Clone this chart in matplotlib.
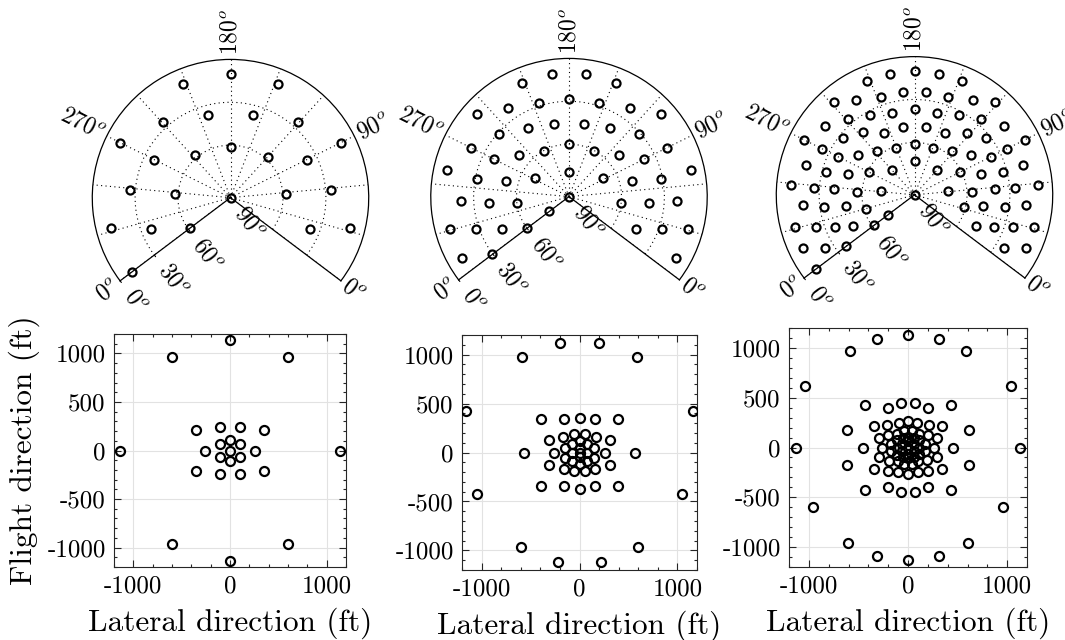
import numpy as np
import matplotlib
matplotlib.use("Agg")
import matplotlib.pyplot as plt
from matplotlib.ticker import MultipleLocator

plt.rcParams.update({
    "font.family": "serif",
    "font.serif": ["cmr10"],
    "mathtext.fontset": "cm",
    "axes.unicode_minus": False,
})

# ── look directions: elevation (deg) of each ring and the azimuths (deg) on it ──
A_ELEV = [90, 61, 58, 37.2, 26, 10]
A_AZIM = [[0], [180, 360], [58, 120, 237, 302],
          [22, 90, 158, 202, 270, 338], [59, 121, 239, 301],
          [32, 90, 148, 180, 212, 270, 328, 360]]

B_ELEV = [90, 77, 69, 60, 51.6, 45, 41.3, 38, 31, 29.7, 28, 21, 19.4, 10, 9.2]
B_AZIM = [[0], [180, 360], [93, 267], [42, 139, 180, 221, 318, 360],
          [72, 109, 251, 288], [16, 164, 196, 344], [46, 136, 224, 314],
          [90, 270], [68, 112, 248, 292], [360], [25, 155, 180, 205, 335],
          [49, 131, 229, 311], [90, 270],
          [10, 31, 112, 148, 169, 191, 212, 248, 329, 350], [70, 290]]

C_ELEV = [90, 71.8, 61.2, 56.8, 48.8, 40.5, 37.2, 32.8, 26, 24, 18.2, 17.4, 10, 9.4]
C_AZIM = [[0], [62, 121, 180, 239, 298, 360],
          [33, 90, 149, 180, 210, 270, 330, 360], [57, 122, 237, 303],
          [14, 39, 77, 103, 143, 167, 193, 217, 257, 283, 321, 346],
          [58, 123, 236, 302], [21, 90, 158, 180, 202, 270, 339, 360],
          [42, 73, 107, 139, 221, 253, 287, 318], [58, 122, 238, 302],
          [9, 27, 90, 153, 171, 189, 207, 270, 333, 351],
          [45, 135, 225, 315], [74, 106, 254, 286],
          [16, 31, 90, 122, 148, 164, 180, 196, 212, 238, 270, 329, 344, 360],
          [59, 301]]

ALT = 200.0                      # flight altitude (ft) for the ground footprint
AZ_LABELS = [0, 90, 180, 270, 360]
EL_LABELS = [0, 30, 60, 90]
X_TICKS = [-1000, 0, 1000]
Y_TICKS = [-1000, -500, 0, 500, 1000]

# ── layout (pixels) ───────────────────────────────────────────────────────────
W, H = 1065, 640
SPAN = 254.0                     # on-screen sweep of the 0..360 azimuth fan
ROT0 = -37.0                     # screen angle of azimuth 0
BEND = 0.315                     # radial stretch of the zenith axis
POLAR_C = [(230.5, 198.0), (569.0, 197.0), (914.5, 195.2)]
POLAR_R = 140.0
BOX = [(114, 334, 346, 567), (462, 335, 697, 570), (789, 328, 1027, 567)]


def zen_fwd(z):
    z = np.asarray(z, dtype=float)
    return z + BEND * z * (1 - z / 90.0) ** 2


_zz = np.linspace(-20, 140, 4001)


def zen_inv(v):
    return np.interp(v, zen_fwd(_zz), _zz)


def fan(az):
    return np.radians(np.asarray(az, dtype=float) * SPAN / 360.0)


def rect(l, t, r, b):
    return [l / W, 1 - b / H, (r - l) / W, (b - t) / H]


def flatten(elev, azim):
    az = np.concatenate([np.asarray(a, float) for a in azim])
    el = np.concatenate([np.full(len(a), e, dtype=float) for e, a in zip(elev, azim)])
    return az, el


fig = plt.figure(figsize=(W / 100, H / 100), dpi=100)
panels = [(A_ELEV, A_AZIM), (B_ELEV, B_AZIM), (C_ELEV, C_AZIM)]

for k, (elev, azim) in enumerate(panels):
    az, el = flatten(elev, azim)

    # ── sky view ──
    # matplotlib squares the wedge's bounding box, so the axes is a
    # 2R x 2R box centred on the middle of the wedge extent
    cx, cy = POLAR_C[k]
    R = POLAR_R
    low = R * np.sin(np.radians(-ROT0))
    my = cy - (R - low) / 2
    ax = fig.add_axes(rect(cx - R, my - R, cx + R, my + R), projection="polar")
    ax.set_theta_offset(np.radians(ROT0))
    ax.set_thetamin(0)
    ax.set_thetamax(SPAN)
    ax.set_rscale("function", functions=(zen_fwd, zen_inv))
    ax.set_rlim(0, 90)
    ax.set_xticks(fan(np.arange(0, 361, 30)))
    ax.set_xticklabels([])
    ax.set_yticks([30, 60])
    ax.set_yticklabels([])
    ax.grid(True, color="k", lw=0.8, ls=(0, (1, 3)))
    ax.tick_params(axis="x", direction="in", length=5, width=0.8)
    ax.tick_params(axis="y", length=0)
    for sp in ax.spines.values():
        sp.set_linewidth(0.9)

    ax.plot(fan(az), 90 - el, "o", ms=5.8, mfc="none", mec="k", mew=1.6,
            clip_on=False, zorder=5)

    for a in AZ_LABELS:
        phi = ROT0 + a * SPAN / 360.0
        if phi <= 90.5:
            rot, ha = phi, "left"
        else:
            rot, ha = phi - 180, "right"
        pad = 3
        ax.annotate(r"$%d^o$" % (a % 360), xy=(fan(a), 90),
                    xytext=(pad * np.cos(np.radians(phi)), pad * np.sin(np.radians(phi))),
                    textcoords="offset points", rotation=rot, rotation_mode="anchor",
                    ha=ha, va="center", fontsize=17, annotation_clip=False)

    perp = np.radians(ROT0 + SPAN + 90)
    for e in EL_LABELS:
        L = 10
        ax.annotate(r"$%d^o$" % e, xy=(fan(360), 90 - e),
                    xytext=(L * np.cos(perp), L * np.sin(perp)),
                    textcoords="offset points", rotation=np.degrees(perp) - 360,
                    rotation_mode="anchor", ha="left", va="center", fontsize=17,
                    annotation_clip=False,
                    arrowprops=dict(arrowstyle="-", lw=0.8, shrinkA=0, shrinkB=0))

    # ── ground footprint ──
    bx = fig.add_axes(rect(*BOX[k]))
    d = ALT * np.tan(np.radians(90 - el))
    x = d * np.sin(np.radians(az))
    y = d * np.cos(np.radians(az))
    bx.plot(x, y, "o", ms=6.5, mfc="none", mec="k", mew=1.6, zorder=5)
    bx.set_xlim(-1200, 1200)
    bx.set_ylim(-1200, 1200)
    bx.set_xticks(X_TICKS)
    bx.set_xticklabels([str(v) for v in X_TICKS])
    bx.set_yticks(Y_TICKS)
    bx.set_yticklabels([str(v) for v in Y_TICKS])
    bx.xaxis.set_minor_locator(MultipleLocator(200))
    bx.yaxis.set_minor_locator(MultipleLocator(100))
    bx.tick_params(which="both", direction="in", top=True, right=True,
                   labelsize=18, width=0.8, color="#262626", pad=6)
    bx.tick_params(which="major", length=5)
    bx.tick_params(which="minor", length=2.5)
    bx.grid(True, which="major", color="#e2e2e2", lw=0.8)
    bx.set_axisbelow(True)
    for sp in bx.spines.values():
        sp.set_linewidth(0.8)
        sp.set_color("#262626")
    bx.set_xlabel("Lateral direction (ft)", fontsize=22.5, labelpad=7)
    if k == 0:
        bx.set_ylabel("Flight direction (ft)", fontsize=22.5, labelpad=5)

fig.savefig("out.png", dpi=100)
